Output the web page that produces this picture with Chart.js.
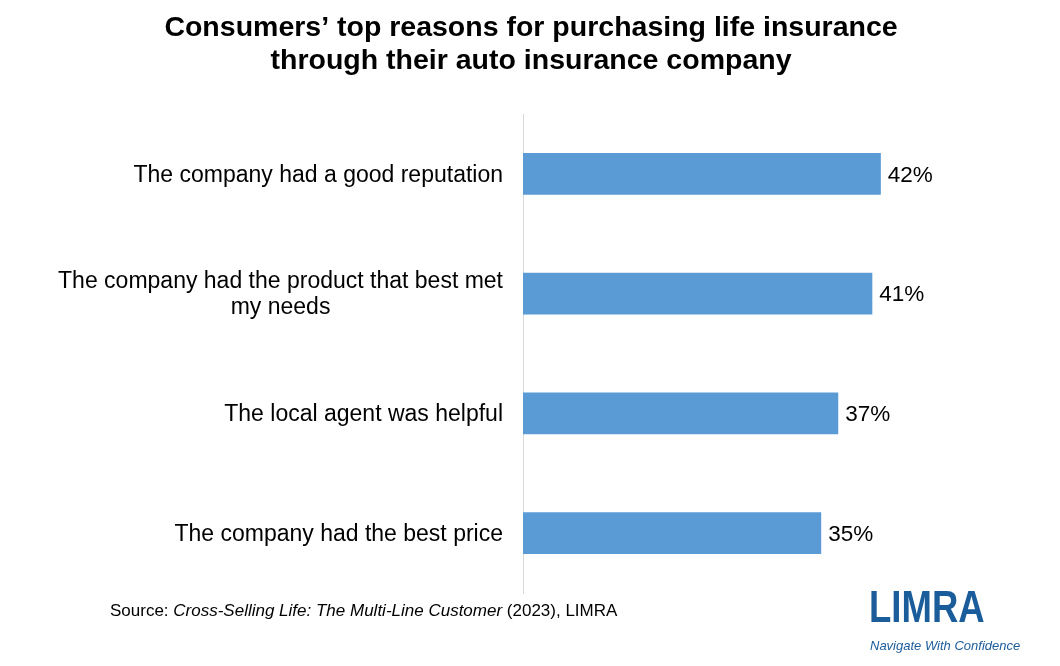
<!DOCTYPE html>
<html>
<head>
<meta charset="utf-8">
<title>Consumers' top reasons</title>
<script src="https://cdn.jsdelivr.net/npm/chart.js@4.4.1/dist/chart.umd.min.js"></script>
<style>
  html, body { margin: 0; padding: 0; background: #fff; }
  canvas { display: block; }
</style>
</head>
<body>
<canvas id="reasonsChart" width="1060" height="666"></canvas>
<script>
const titleLines = [
    'Consumers\u2019 top reasons for purchasing life insurance',
    'through their auto insurance company'
]
const reasons = [
    ['The company had a good reputation'],
    ['The company had the product that best met', 'my needs'],
    ['The local agent was helpful'],
    ['The company had the best price']
]
const shares = [42, 41, 37, 35]
const sourceParts = [
    ['Source: ', false],
    ['Cross-Selling Life: The Multi-Line Customer', true],
    [' (2023), LIMRA', false]
]

const FONT = '"Liberation Sans", Arial, Helvetica, sans-serif'
const BLUE = '#5b9bd5'
const LOGO_BLUE = '#1b5c9b'

// title, centred on the whole page
const pageTitle = {
    id: 'pageTitle',
    afterDraw(chart) {
        const ctx = chart.ctx
        ctx.save()
        ctx.font = 'bold 28.5px ' + FONT
        ctx.fillStyle = '#000'
        ctx.textAlign = 'center'
        ctx.textBaseline = 'middle'
        titleLines.forEach((l, i) => ctx.fillText(l, 531, 28 + i * 33))
        ctx.restore()
    }
}

// category labels: block right aligned, lines centred inside the block
const categoryLabels = {
    id: 'categoryLabels',
    afterDraw(chart) {
        const ctx = chart.ctx
        const yScale = chart.scales.y
        const right = chart.chartArea.left - 20
        ctx.save()
        ctx.font = '23px ' + FONT
        ctx.fillStyle = '#000'
        ctx.textBaseline = 'middle'
        ctx.textAlign = 'center'
        reasons.forEach((lines, i) => {
            const w = Math.max(...lines.map(l => ctx.measureText(l).width))
            const cx = right - w / 2
            const yc = yScale.getPixelForValue(i) + 1.5
            const lh = 26
            lines.forEach((l, j) => {
                ctx.fillText(l, cx, yc + (j - (lines.length - 1) / 2) * lh)
            })
        })
        ctx.restore()
    }
}

// value labels at the end of each bar
const valueLabels = {
    id: 'valueLabels',
    afterDatasetsDraw(chart) {
        const ctx = chart.ctx
        const meta = chart.getDatasetMeta(0)
        ctx.save()
        ctx.font = '22.5px ' + FONT
        ctx.fillStyle = '#000'
        ctx.textBaseline = 'middle'
        ctx.textAlign = 'left'
        meta.data.forEach((bar, i) => {
            ctx.fillText(shares[i] + '%', bar.x + 7, bar.y + 1.5)
        })
        ctx.restore()
    }
}

// source line and logo
const footer = {
    id: 'footer',
    afterDraw(chart) {
        const ctx = chart.ctx
        ctx.save()
        ctx.textBaseline = 'middle'
        ctx.textAlign = 'left'
        ctx.fillStyle = '#000'
        let x = 110
        sourceParts.forEach(([txt, italic]) => {
            ctx.font = (italic ? 'italic ' : '') + '17px ' + FONT
            ctx.fillText(txt, x, 611)
            x += ctx.measureText(txt).width
        })

        // LIMRA wordmark
        ctx.fillStyle = LOGO_BLUE
        ctx.font = 'bold 44px ' + FONT
        ctx.save()
        ctx.translate(869, 610)
        ctx.scale(0.83, 1)
        ctx.fillText('LIMRA', 0, 0)
        ctx.restore()
        ctx.font = 'italic 13px ' + FONT
        ctx.fillText('Navigate With Confidence', 870, 646)
        ctx.restore()
    }
}

const barData = {
    labels: reasons,
    datasets: [{
        label: 'Share of consumers',
        data: shares,
        backgroundColor: BLUE,
        borderWidth: 0,
        barPercentage: 1,
        categoryPercentage: 0.35
    }]
}

const barConfig = {
    type: 'bar',
    data: barData,
    options: {
        indexAxis: 'y',
        responsive: false,
        animation: false,
        devicePixelRatio: 1,
        layout: {
            padding: { left: 515, right: 111, top: 114, bottom: 73 }
        },
        scales: {
            x: {
                display: false,
                min: 0,
                max: 50
            },
            y: {
                ticks: { display: false },
                grid: { display: false },
                border: { display: true, color: '#d9d9d9', width: 1 }
            }
        },
        plugins: {
            legend: { display: false },
            tooltip: { enabled: false },
            title: { display: false }
        }
    },
    plugins: [pageTitle, categoryLabels, valueLabels, footer]
}

const reasonsChart = new Chart(
    document.getElementById('reasonsChart'),
    barConfig
)
</script>
</body>
</html>
